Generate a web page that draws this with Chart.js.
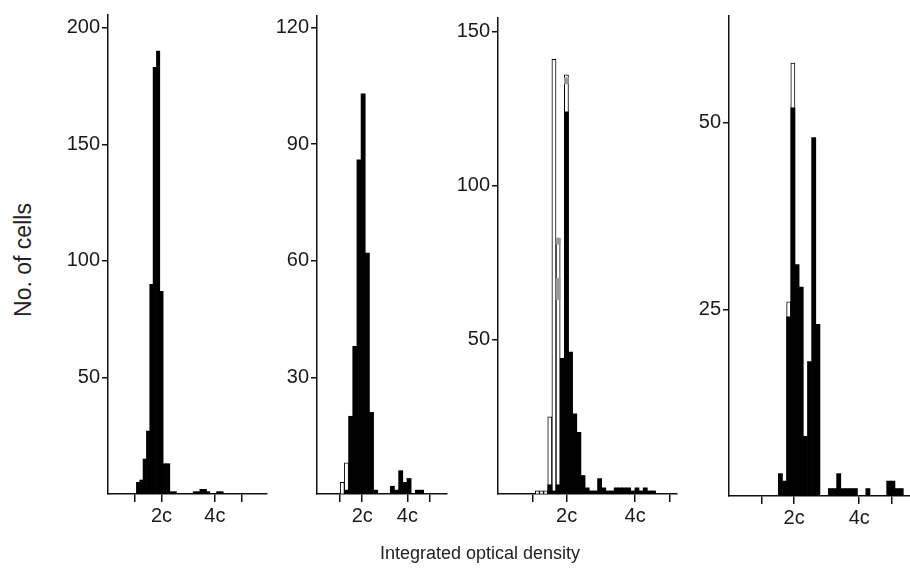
<!DOCTYPE html>
<html>
<head>
<meta charset="utf-8">
<script src="https://cdn.jsdelivr.net/npm/chart.js@4.4.1/dist/chart.umd.min.js"></script>
<style>
  body { margin: 0; background: #fff; width: 910px; height: 568px; position: relative; overflow: hidden; font-family: "Liberation Sans", Arial, sans-serif; }
  canvas { position: absolute; top: 0; }
  .ytitle { position: absolute; left: 23px; top: 260px; transform: translate(-50%, -50%) rotate(-90deg); font-size: 23px; color: #222; white-space: nowrap; }
  .xtitle { position: absolute; left: 480px; top: 553px; transform: translate(-50%, -50%); font-size: 18px; color: #222; white-space: nowrap; }
</style>
</head>
<body>
<canvas id="panel1"></canvas>
<canvas id="panel2"></canvas>
<canvas id="panel3"></canvas>
<canvas id="panel4"></canvas>
<div class="ytitle">No. of cells</div>
<div class="xtitle">Integrated optical density</div>
<script>
// x axis in units of c (DNA content), ticks at 1c, 2c, 4c, 5c
const xTickValues = [1, 2, 4, 5];
const xTickNames = ['', '2c', '4c', ''];

// panel 1
const p1Start = 1.0625, p1Width = 0.125;
const p1Black = [5, 6, 15, 27, 90, 183, 190, 87, 13, 13, 1, 1, 0, 0, 0, 0, 0, 1, 1, 2, 2, 1, 0, 0, 1, 1];
const p1Open = [];
const p1YTicks = [50, 100, 150, 200];

// panel 2
const p2Start = 1.027, p2Width = 0.1845;
const p2Black = [0, 1, 20, 38, 86, 103, 62, 21, 1, 0, 0, 0, 2, 1, 6, 3, 4, 0, 1, 1];
const p2Open = [3, 8];
const p2YTicks = [30, 60, 90, 120];

// panel 3
const p3Start = 1.0875, p3Width = 0.121;
const p3Black = [0, 0, 0, 3, 1, 3, 44, 124, 46, 26, 20, 6, 2, 1, 1, 5, 2, 1, 1, 2, 2, 2, 2, 1, 2, 1, 2, 1, 1];
const p3Open = [1, 1, 1, 25, 141, 83, 0, 136];
const p3GreyBins = [5, 5, 7];
const p3GreyLow = [63, 81, 133];
const p3GreyHigh = [70, 83, 135];
const p3YTicks = [50, 100, 150];

// panel 4
const p4Start = 1.514, p4Width = 0.128;
const p4Black = [3, 2, 24, 52, 31, 28, 8, 18, 48, 23, 0, 0, 1, 1, 3, 1, 1, 1, 1, 0, 0, 1, 0, 0, 0, 0, 2, 2, 1, 1];
const p4Open = [0, 0, 26, 58];
const p4YTicks = [25, 50];

const FONT = '"Liberation Sans", Arial, sans-serif';
const Y_AXIS_W = 60;
const X_AXIS_H = 40;

function binCenter(start, width, i) {
    return start + (i + 0.5) * width;
}

function makePanel(id, d, box) {
    const canvas = document.getElementById(id);
    const plotW = box.right - box.left;
    canvas.width = Y_AXIS_W + plotW + box.padRight;
    canvas.height = 568;
    canvas.style.left = (box.left - Y_AXIS_W) + 'px';

    const datasets = [{
        data: d.black.map((v, i) => ({ x: binCenter(d.start, d.width, i), y: v })),
        backgroundColor: '#000',
        borderWidth: 0,
        grouped: false
    }];
    if (d.greyBins) {
        datasets.push({
            data: d.greyBins.map((b, i) => ({ x: binCenter(d.start, d.width, b), y: [d.greyLow[i], d.greyHigh[i]] })),
            backgroundColor: '#9a9a9a',
            borderWidth: 0,
            grouped: false
        });
    }
    datasets.push({
        data: d.open.map((v, i) => ({ x: binCenter(d.start, d.width, i), y: v })).filter(p => p.y > 0),
        backgroundColor: '#fff',
        borderColor: '#000',
        borderWidth: 1,
        grouped: false
    });

    new Chart(canvas, {
        type: 'bar',
        data: { datasets: datasets },
        options: {
            responsive: false,
            animation: false,
            barPercentage: 1,
            categoryPercentage: 1,
            layout: { padding: { top: box.top, bottom: 568 - box.bottom - X_AXIS_H, left: 0, right: box.padRight } },
            plugins: { legend: { display: false }, tooltip: { enabled: false } },
            scales: {
                x: {
                    type: 'linear',
                    min: 0,
                    max: box.xMax,
                    offset: false,
                    afterBuildTicks: s => { s.ticks = xTickValues.map(v => ({ value: v })); },
                    afterFit: s => { s.height = X_AXIS_H; },
                    grid: { display: true, drawOnChartArea: false, drawTicks: true, tickLength: 8, color: '#111', lineWidth: 1.5, offset: false },
                    border: { display: true, color: '#111', width: 1.5 },
                    ticks: {
                        autoSkip: false, maxRotation: 0, padding: 2,
                        color: '#1a1a1a', font: { family: FONT, size: 20 },
                        callback: (v, i) => xTickNames[i]
                    }
                },
                y: {
                    min: 0,
                    max: box.yMax,
                    afterBuildTicks: s => { s.ticks = d.yTicks.map(v => ({ value: v })); },
                    afterFit: s => { s.width = Y_AXIS_W; },
                    grid: { display: true, drawOnChartArea: false, drawTicks: true, tickLength: 6, color: '#111', lineWidth: 1.5 },
                    border: { display: true, color: '#111', width: 1.5 },
                    ticks: { autoSkip: false, padding: 2, color: '#1a1a1a', font: { family: FONT, size: 20 } }
                }
            }
        }
    });
}

makePanel('panel1',
    { start: p1Start, width: p1Width, black: p1Black, open: p1Open, yTicks: p1YTicks },
    { left: 108, right: 267, top: 15, bottom: 494, xMax: 5.95, yMax: 205.5, padRight: 4 });
makePanel('panel2',
    { start: p2Start, width: p2Width, black: p2Black, open: p2Open, yTicks: p2YTicks },
    { left: 317, right: 447, top: 16, bottom: 494, xMax: 5.75, yMax: 123, padRight: 4 });
makePanel('panel3',
    { start: p3Start, width: p3Width, black: p3Black, open: p3Open, yTicks: p3YTicks,
      greyBins: p3GreyBins, greyLow: p3GreyLow, greyHigh: p3GreyHigh },
    { left: 498, right: 677, top: 18, bottom: 494, xMax: 5.22, yMax: 154.4, padRight: 4 });
makePanel('panel4',
    { start: p4Start, width: p4Width, black: p4Black, open: p4Open, yTicks: p4YTicks },
    { left: 729, right: 910, top: 16, bottom: 496, xMax: 5.56, yMax: 64.3, padRight: 0 });
</script>
</body>
</html>
